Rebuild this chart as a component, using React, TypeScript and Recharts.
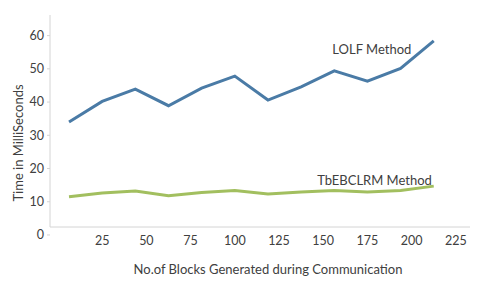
import React from "react";
import {
  LineChart,
  Line,
  XAxis,
  YAxis,
  ReferenceDot,
} from "recharts";

// number of blocks (x) and times in ms
const BLOCKS = [6.25, 25, 43.75, 62.5, 81.25, 100, 118.75, 137.5, 156.25, 175, 193.75, 212.5];
const LOLF = [34.0, 40.2, 43.9, 38.9, 44.2, 47.8, 40.6, 44.6, 49.4, 46.3, 50.1, 58.4];
const TBEBCLRM = [11.5, 12.6, 13.2, 11.8, 12.8, 13.4, 12.3, 12.9, 13.4, 12.9, 13.4, 14.7];

const X_TICKS = [25, 50, 75, 100, 125, 150, 175, 200, 225];
const Y_TICKS = [0, 10, 20, 30, 40, 50, 60];

// where the series names sit (data coords)
const LOLF_LABEL = { x: 177.5, y: 55.9, text: "LOLF Method" };
const TB_LABEL = { x: 179, y: 16.5, text: "TbEBCLRM Method" };

const FONT = "Lato, 'Open Sans', sans-serif";
const TEXT = "#404040";

const data = BLOCKS.map((b, i) => ({ blocks: b, lolf: LOLF[i], tb: TBEBCLRM[i] }));

// rotated y title, sits a bit below the middle of the axis like the original
function YTitle(props: any) {
  const vb = props.viewBox || { x: 0, y: 0, width: 0, height: 0 };
  const cx = vb.x + 18;
  const cy = vb.y + vb.height / 2 + 22;
  return (
    <text
      x={cx}
      y={cy}
      transform={`rotate(-90, ${cx}, ${cy})`}
      textAnchor="middle"
      dominantBaseline="central"
      fill={TEXT}
      fontSize={13}
    >
      Time in MilliSeconds
    </text>
  );
}

export default function App() {
  return (
    <div style={{ position: "absolute", left: 0, top: 0, width: 480, height: 281, background: "#fff" }}>
      <LineChart
        width={480}
        height={281}
        data={data}
        margin={{ top: 15, right: 10, bottom: 0, left: 0 }}
        style={{ fontFamily: FONT }}
      >
        <XAxis
          dataKey="blocks"
          type="number"
          domain={[-4.5, 233]}
          allowDataOverflow
          ticks={X_TICKS}
          height={54}
          tickLine={false}
          tickMargin={3}
          stroke="#d4d4d4"
          tick={{ fill: TEXT, fontSize: 12.5 }}
          label={{
            value: "No.of Blocks Generated during Communication",
            position: "insideBottom",
            offset: 7,
            fill: TEXT,
            fontSize: 13,
            dx: 8,
          }}
        />
        <YAxis
          type="number"
          width={50}
          domain={[2.4, 66.2]}
          allowDataOverflow
          ticks={Y_TICKS}
          interval={0}
          tickSize={3}
          tickMargin={3}
          stroke="#d4d4d4"
          tick={{ fill: TEXT, fontSize: 12.5 }}
          label={<YTitle />}
        />
        <Line
          dataKey="lolf"
          stroke="#4a7ba6"
          strokeWidth={3}
          dot={false}
          isAnimationActive={false}
        />
        <Line
          dataKey="tb"
          stroke="#a2bf5f"
          strokeWidth={3}
          dot={false}
          isAnimationActive={false}
        />
        <ReferenceDot
          x={LOLF_LABEL.x}
          y={LOLF_LABEL.y}
          r={0}
          stroke="none"
          label={{ value: LOLF_LABEL.text, position: "center", fill: TEXT, fontSize: 13 }}
        />
        <ReferenceDot
          x={TB_LABEL.x}
          y={TB_LABEL.y}
          r={0}
          stroke="none"
          label={{ value: TB_LABEL.text, position: "center", fill: TEXT, fontSize: 13 }}
        />
      </LineChart>
    </div>
  );
}
